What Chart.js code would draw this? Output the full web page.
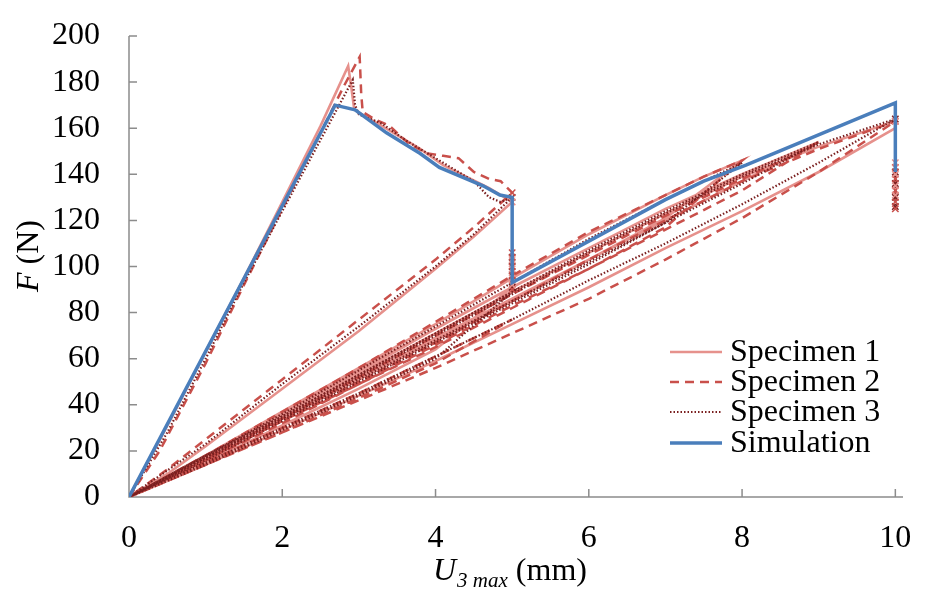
<!DOCTYPE html>
<html>
<head>
<meta charset="utf-8">
<script src="https://cdn.jsdelivr.net/npm/chart.js@4.4.1/dist/chart.umd.min.js"></script>
<style>
  html, body { margin: 0; padding: 0; background: #fff; }
  #wrap { width: 945px; height: 591px; }
</style>
</head>
<body>
<div id="wrap"><canvas id="chart" width="945" height="591"></canvas></div>
<script>
// cyclic test paths (displacement in mm, force in N)
// null force = pen lifted
const seriesNames = ['Specimen 1', 'Specimen 2', 'Specimen 3', 'Simulation'];

const s1X = [0, 0.5, 1, 1.5, 2, 2.5, 2.86, 2.9, 2.94, 3.2, 3.5, 3.8, 4.1, 4.4, 4.7, 5,
  4.5, 4, 3, 2, 1, 0.5, 0,
  1, 2, 3, 4, 5,
  4, 3, 2, 1, 0,
  1, 2, 3, 4, 5, 6, 7, 7.5, 8,
  7, 6, 5, 4, 3, 2, 1, 0,
  1, 2, 3, 4, 5, 6, 7, 8, 8.5, 9,
  8, 7, 6, 5, 4, 3, 2, 1, 0,
  1, 2, 3, 4, 5, 6, 7, 8, 9, 10,
  10, 10,
  0, 1, 2, 3, 4, 5, 6, 7, 8, 9, 10];
const s1F = [0, 31, 63, 95, 128, 161, 187, 178, 168, 163, 157, 151, 144, 139, 134, 128,
  113, 99, 72, 47, 22, 10, 0,
  18, 36, 55, 73, 91,
  64, 47, 31, 15, 0,
  18, 37, 56, 75, 95, 114, 131, 139, 146,
  121, 103, 85, 68, 51, 34, 17, 0,
  18, 36, 54, 73, 91, 108, 125, 140, 147, 154,
  137, 120, 103, 86, 69, 52, 35, 17, 0,
  17, 35, 53, 71, 89, 106, 123, 139, 152, 163,
  131, null,
  0, 14, 29, 44, 59, 75, 91, 108, 124, 141, 160];

const s2X = [0, 0.4, 1, 1.5, 2, 2.5, 2.8, 3.01, 3.03, 3.05, 3.2, 3.4, 3.66, 3.9, 4.1, 4.3, 4.5, 4.7, 4.85, 5,
  4.5, 4, 3, 2, 1, 0.5, 0,
  1, 2, 3, 4, 5,
  4, 3, 2, 1, 0,
  1, 2, 3, 4, 5, 6, 6.5, 7, 7.5, 8,
  7, 6, 5, 4, 3, 2, 1, 0,
  1, 2, 3, 4, 5, 6, 7, 8, 8.6, 9,
  8, 7, 6, 5, 4, 3, 2, 1, 0,
  1, 2, 3, 4, 5, 6, 7, 8, 9, 10,
  10, 10,
  0, 1, 2, 3, 4, 5, 6, 7, 8, 9, 10];
const s2F = [0, 20, 58, 92, 125, 158, 178, 191, 175, 167, 164, 161, 153, 149, 148, 147, 141, 138, 137, 132,
  117, 103, 77, 51, 25, 12, 0,
  15, 30, 45, 61, 77,
  58, 43, 28, 14, 0,
  18, 37, 56, 76, 96, 115, 123, 131, 139, 146,
  117, 99, 82, 65, 49, 32, 16, 0,
  17, 34, 52, 70, 88, 105, 122, 138, 147, 154,
  133, 116, 99, 83, 66, 49, 33, 16, 0,
  16, 33, 50, 67, 85, 103, 120, 137, 151, 163,
  125, null,
  0, 14, 28, 42, 56, 71, 86, 103, 121, 141, 163];

const s3X = [0, 0.5, 1, 1.5, 2, 2.5, 2.92, 2.95, 3.0, 3.3, 3.6, 3.9, 4.2, 4.5, 4.7, 4.85, 5,
  4.5, 4, 3, 2, 1, 0,
  1, 2, 3, 4, 5,
  4, 3, 2, 1, 0,
  1, 2, 3, 4, 5, 6, 7, 8,
  7, 6, 5, 4, 3, 2, 1, 0,
  1, 2, 3, 4, 5, 6, 7, 8, 9,
  8, 7, 6, 5, 4, 3, 2, 1, 0,
  1, 2, 3, 4, 5, 6, 7, 8, 9, 10,
  10, 10,
  0, 1, 2, 3, 4, 5, 6, 7, 8, 9, 10];
const s3F = [0, 28, 60, 93, 124, 155, 181, 170, 166, 162, 155, 149, 143, 137, 130, 128, 130,
  114, 100, 74, 49, 23, 0,
  17, 35, 53, 71, 89,
  60, 44, 29, 14, 0,
  18, 36, 55, 74, 93, 112, 129, 145,
  119, 101, 84, 67, 50, 33, 16, 0,
  18, 35, 53, 71, 89, 107, 124, 140, 154,
  136, 119, 102, 85, 68, 51, 34, 17, 0,
  17, 34, 52, 70, 88, 106, 123, 139, 153, 164,
  126, null,
  0, 15, 30, 45, 61, 77, 94, 110, 127, 145, 164];

// relaxation readings at the hold points (drawn as x markers)
const s1HoldX = [5, 5, 5, 5, 5, 10, 10, 10, 10, 10];
const s1HoldF = [128, 92, 95, 99, 103, 163, 131, 135, 140, 145];
const s2HoldX = [5, 5, 5, 5, 5, 5, 10, 10, 10, 10, 10, 10];
const s2HoldF = [132, 90, 94, 98, 102, 106, 163, 125, 128, 133, 138, 143];
const s3HoldX = [5, 5, 5, 5, 5, 10, 10, 10, 10, 10];
const s3HoldF = [130, 91, 96, 100, 104, 164, 126, 130, 136, 141];

const simX = [0, 2.69, 2.95, 3.36, 3.8, 4.05, 4.62, 4.84, 5, 5, 6, 7, 7.5, 8.05, 10, 10];
const simF = [0, 170, 168, 158, 149, 143, 135, 131, 130, 93, 111, 129, 137, 144, 171, 141];

const xTicks = [0, 2, 4, 6, 8, 10];

const colors = ['#e6918c', '#c9504b', '#7a1f1f', '#4a7ebb'];
const FONT = "'Liberation Serif', 'Times New Roman', serif";

function pts(xs, fs) {
  return xs.map((x, i) => ({ x: x, y: fs[i] }));
}

function lineSet(label, xs, fs, i, width, dash, order) {
  return {
    label: label,
    data: pts(xs, fs),
    showLine: true,
    borderColor: colors[i],
    backgroundColor: colors[i],
    borderWidth: width,
    borderDash: dash,
    pointRadius: 0,
    fill: false,
    spanGaps: false,
    order: order
  };
}

function holdSet(xs, fs, i) {
  return {
    label: 'hold',
    data: pts(xs, fs),
    showLine: false,
    pointStyle: 'crossRot',
    pointRadius: 4.5,
    pointBorderWidth: 1.5,
    borderColor: colors[i],
    order: 1
  };
}

const datasets = [
  lineSet(seriesNames[0], s1X, s1F, 0, 2.6, [], 4),
  lineSet(seriesNames[1], s2X, s2F, 1, 2.5, [9, 6], 3),
  lineSet(seriesNames[2], s3X, s3F, 2, 2.2, [1.5, 2], 2),
  lineSet(seriesNames[3], simX, simF, 3, 3.5, [], 0),
  holdSet(s1HoldX, s1HoldF, 0),
  holdSet(s2HoldX, s2HoldF, 1),
  holdSet(s3HoldX, s3HoldF, 2)
];

// axes with inward ticks, axis titles and the legend box
const decor = {
  id: 'decor',
  beforeDatasetsDraw(chart) {
    const { ctx, chartArea: a, scales } = chart;
    ctx.save();
    ctx.strokeStyle = '#8c8c8c';
    ctx.lineWidth = 1.5;
    ctx.beginPath();
    ctx.moveTo(a.left, a.top);
    ctx.lineTo(a.left, a.bottom);
    ctx.lineTo(a.right, a.bottom);
    scales.y.ticks.forEach(t => {
      const py = scales.y.getPixelForValue(t.value);
      ctx.moveTo(a.left, py);
      ctx.lineTo(a.left + 8, py);
    });
    scales.x.ticks.forEach(t => {
      const px = scales.x.getPixelForValue(t.value);
      ctx.moveTo(px, a.bottom);
      ctx.lineTo(px, a.bottom - 8);
    });
    ctx.stroke();
    ctx.restore();
  },
  afterDraw(chart) {
    const ctx = chart.ctx;
    ctx.save();
    ctx.fillStyle = '#000';
    ctx.textBaseline = 'alphabetic';

    // x title: U_3 max (mm)
    let x = 433;
    ctx.font = 'italic 32px ' + FONT;
    ctx.fillText('U', x, 580);
    x += ctx.measureText('U').width;
    ctx.font = 'italic 21px ' + FONT;
    ctx.fillText('3 max', x + 1, 587);
    x += ctx.measureText('3 max').width + 1;
    ctx.font = '32px ' + FONT;
    ctx.fillText(' (mm)', x, 580);

    // y title: F (N)
    ctx.save();
    ctx.translate(38, 256);
    ctx.rotate(-Math.PI / 2);
    ctx.font = 'italic 32px ' + FONT;
    const wF = ctx.measureText('F').width;
    ctx.font = '32px ' + FONT;
    const wN = ctx.measureText(' (N)').width;
    let lx = -(wF + wN) / 2;
    ctx.font = 'italic 32px ' + FONT;
    ctx.fillText('F', lx, 0);
    ctx.font = '32px ' + FONT;
    ctx.fillText(' (N)', lx + wF, 0);
    ctx.restore();

    // legend
    const rows = [361, 391, 421, 452];
    for (let i = 0; i < 4; i++) {
      const ds = chart.data.datasets[i];
      const ly = rows[i] - 9;
      ctx.save();
      ctx.strokeStyle = ds.borderColor;
      ctx.lineWidth = ds.borderWidth;
      ctx.setLineDash(ds.borderDash);
      ctx.beginPath();
      ctx.moveTo(670, ly);
      ctx.lineTo(722, ly);
      ctx.stroke();
      ctx.restore();
      ctx.font = '32px ' + FONT;
      ctx.fillText(ds.label, 730, rows[i]);
    }
    ctx.restore();
  }
};

new Chart(document.getElementById('chart'), {
  type: 'scatter',
  data: { datasets: datasets },
  options: {
    responsive: false,
    animation: false,
    devicePixelRatio: 1,
    layout: { padding: { left: 0, top: 36, right: 42, bottom: 0 } },
    plugins: {
      legend: { display: false },
      tooltip: { enabled: false }
    },
    scales: {
      x: {
        type: 'linear',
        min: 0,
        max: 10.1,
        afterFit: s => { s.height = 94; s.paddingLeft = 0; s.paddingRight = 0; },
        afterBuildTicks: s => { s.ticks = xTicks.map(v => ({ value: v })); },
        grid: { display: false, drawTicks: false },
        border: { display: false },
        ticks: {
          color: '#000',
          padding: 22,
          maxRotation: 0,
          font: { family: FONT, size: 32 }
        }
      },
      y: {
        type: 'linear',
        min: 0,
        max: 200,
        afterFit: s => { s.width = 129; s.paddingTop = 0; s.paddingBottom = 0; },
        grid: { display: false, drawTicks: false },
        border: { display: false },
        ticks: {
          stepSize: 20,
          color: '#000',
          padding: 29,
          font: { family: FONT, size: 32 }
        }
      }
    }
  },
  plugins: [decor]
});
</script>
</body>
</html>
